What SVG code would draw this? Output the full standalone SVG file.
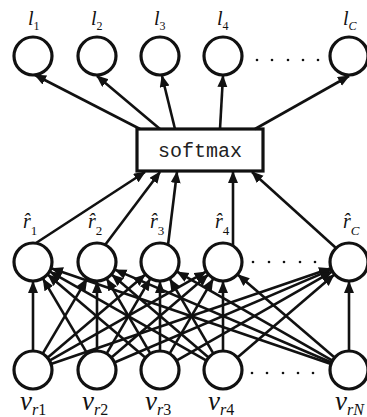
<svg xmlns="http://www.w3.org/2000/svg" width="367" height="417" viewBox="0 0 367 417">
<style>
.n{fill:#fff;stroke:#111;stroke-width:3.2}
.c line{stroke:#111;stroke-width:2.6;marker-end:url(#ah)}
.lab{font-family:"Liberation Serif",serif;font-style:italic;fill:#111}
.up{font-style:normal}
.dot{fill:#111}
</style>
<defs>
<marker id="ah" markerUnits="userSpaceOnUse" markerWidth="14" markerHeight="12" refX="11" refY="5" orient="auto">
<path d="M0,0 L12,5 L0,10 z" fill="#111"/>
</marker>
</defs>
<rect width="367" height="417" fill="#fff"/>
<g id="l1"><circle class="n" cx="33" cy="56" r="19"/><text class="lab" x="28" y="25" font-size="20">l<tspan class="up" dy="5" font-size="12">1</tspan></text></g>
<g id="l2"><circle class="n" cx="97" cy="56" r="19"/><text class="lab" x="91" y="25" font-size="20">l<tspan class="up" dy="5" font-size="12">2</tspan></text></g>
<g id="l3"><circle class="n" cx="160" cy="56" r="19"/><text class="lab" x="154" y="25" font-size="20">l<tspan class="up" dy="5" font-size="12">3</tspan></text></g>
<g id="l4"><circle class="n" cx="223" cy="56" r="19"/><text class="lab" x="217" y="25" font-size="20">l<tspan class="up" dy="5" font-size="12">4</tspan></text></g>
<g id="lC"><circle class="n" cx="349" cy="56" r="19"/><text class="lab" x="343" y="25" font-size="20">l<tspan dy="5" font-size="12">C</tspan></text></g>
<g id="dots-top"><circle class="dot" cx="257" cy="60" r="1.3"/><circle class="dot" cx="272" cy="60" r="1.3"/><circle class="dot" cx="288" cy="60" r="1.3"/><circle class="dot" cx="303" cy="60" r="1.3"/><circle class="dot" cx="318" cy="60" r="1.3"/></g>
<g id="softmax"><rect x="137" y="129" width="126" height="42" fill="#fff" stroke="#111" stroke-width="3.2"/><text x="200" y="157" font-family="Liberation Mono, monospace" font-size="20" text-anchor="middle" fill="#222">softmax</text></g>
<g id="r1"><circle class="n" cx="33" cy="262" r="19"/><text class="lab" x="23" y="228" font-size="20">r&#x302;<tspan class="up" dy="7" font-size="13">1</tspan></text></g>
<g id="r2"><circle class="n" cx="97" cy="262" r="19"/><text class="lab" x="88" y="228" font-size="20">r&#x302;<tspan class="up" dy="7" font-size="13">2</tspan></text></g>
<g id="r3"><circle class="n" cx="160" cy="262" r="19"/><text class="lab" x="150" y="228" font-size="20">r&#x302;<tspan class="up" dy="7" font-size="13">3</tspan></text></g>
<g id="r4"><circle class="n" cx="223" cy="262" r="19"/><text class="lab" x="215" y="228" font-size="20">r&#x302;<tspan class="up" dy="7" font-size="13">4</tspan></text></g>
<g id="rC"><circle class="n" cx="349" cy="262" r="19"/><text class="lab" x="343" y="228" font-size="20">r&#x302;<tspan dy="7" font-size="13">C</tspan></text></g>
<g id="dots-mid"><circle class="dot" cx="253" cy="262" r="1.3"/><circle class="dot" cx="269" cy="262" r="1.3"/><circle class="dot" cx="284" cy="262" r="1.3"/><circle class="dot" cx="300" cy="262" r="1.3"/><circle class="dot" cx="315" cy="262" r="1.3"/></g>
<g id="v1"><circle class="n" cx="33" cy="370" r="19"/><text class="lab" x="20" y="410" font-size="27">v<tspan dy="5" font-size="16">r</tspan><tspan class="up" font-size="16">1</tspan></text></g>
<g id="v2"><circle class="n" cx="97" cy="370" r="19"/><text class="lab" x="82" y="410" font-size="27">v<tspan dy="5" font-size="16">r</tspan><tspan class="up" font-size="16">2</tspan></text></g>
<g id="v3"><circle class="n" cx="160" cy="370" r="19"/><text class="lab" x="145" y="410" font-size="27">v<tspan dy="5" font-size="16">r</tspan><tspan class="up" font-size="16">3</tspan></text></g>
<g id="v4"><circle class="n" cx="223" cy="370" r="19"/><text class="lab" x="208" y="410" font-size="27">v<tspan dy="5" font-size="16">r</tspan><tspan class="up" font-size="16">4</tspan></text></g>
<g id="vN"><circle class="n" cx="349" cy="370" r="19"/><text class="lab" x="335" y="410" font-size="27">v<tspan dy="5" font-size="16">rN</tspan></text></g>
<g id="dots-bot"><circle class="dot" cx="252" cy="373" r="1.3"/><circle class="dot" cx="267" cy="373" r="1.3"/><circle class="dot" cx="283" cy="373" r="1.3"/><circle class="dot" cx="298" cy="373" r="1.3"/><circle class="dot" cx="313" cy="373" r="1.3"/></g>
<g id="connectors" class="c">
<line x1="140" y1="129" x2="35" y2="75"/>
<line x1="160" y1="129" x2="97" y2="76"/>
<line x1="175" y1="129" x2="162" y2="76"/>
<line x1="220" y1="129" x2="223" y2="76"/>
<line x1="255" y1="129" x2="349" y2="76"/>
<line x1="36" y1="243" x2="145" y2="172"/>
<line x1="105" y1="245" x2="160" y2="172"/>
<line x1="168" y1="245" x2="177" y2="172"/>
<line x1="233" y1="246" x2="233" y2="172"/>
<line x1="336" y1="248" x2="252" y2="172"/>
<line x1="33" y1="351" x2="33" y2="282"/>
<line x1="42.7" y1="353.7" x2="86.8" y2="279.2"/>
<line x1="47.5" y1="357.7" x2="144.8" y2="275"/>
<line x1="49.5" y1="360.6" x2="205.6" y2="271.9"/>
<line x1="51" y1="363.9" x2="330.1" y2="268.5"/>
<line x1="87.3" y1="353.7" x2="43.2" y2="279.2"/>
<line x1="97" y1="351" x2="97" y2="282"/>
<line x1="106.6" y1="353.6" x2="149.9" y2="279.3"/>
<line x1="111.4" y1="357.6" x2="207.8" y2="275"/>
<line x1="114.5" y1="362.5" x2="330.6" y2="269.9"/>
<line x1="145.5" y1="357.7" x2="48.2" y2="275"/>
<line x1="150.4" y1="353.6" x2="107.1" y2="279.3"/>
<line x1="160" y1="351" x2="160" y2="282"/>
<line x1="169.6" y1="353.6" x2="212.9" y2="279.3"/>
<line x1="176.5" y1="360.6" x2="331.6" y2="271.9"/>
<line x1="206.5" y1="360.6" x2="50.4" y2="271.9"/>
<line x1="208.6" y1="357.6" x2="112.2" y2="275"/>
<line x1="213.4" y1="353.6" x2="170.1" y2="279.3"/>
<line x1="223" y1="351" x2="223" y2="282"/>
<line x1="237.4" y1="357.6" x2="333.8" y2="275"/>
<line x1="331" y1="363.9" x2="51.9" y2="268.5"/>
<line x1="331.5" y1="362.5" x2="115.4" y2="269.9"/>
<line x1="332.5" y1="360.6" x2="177.4" y2="271.9"/>
<line x1="334.6" y1="357.6" x2="238.2" y2="275"/>
<line x1="349" y1="351" x2="349" y2="282"/>
</g>
</svg>
